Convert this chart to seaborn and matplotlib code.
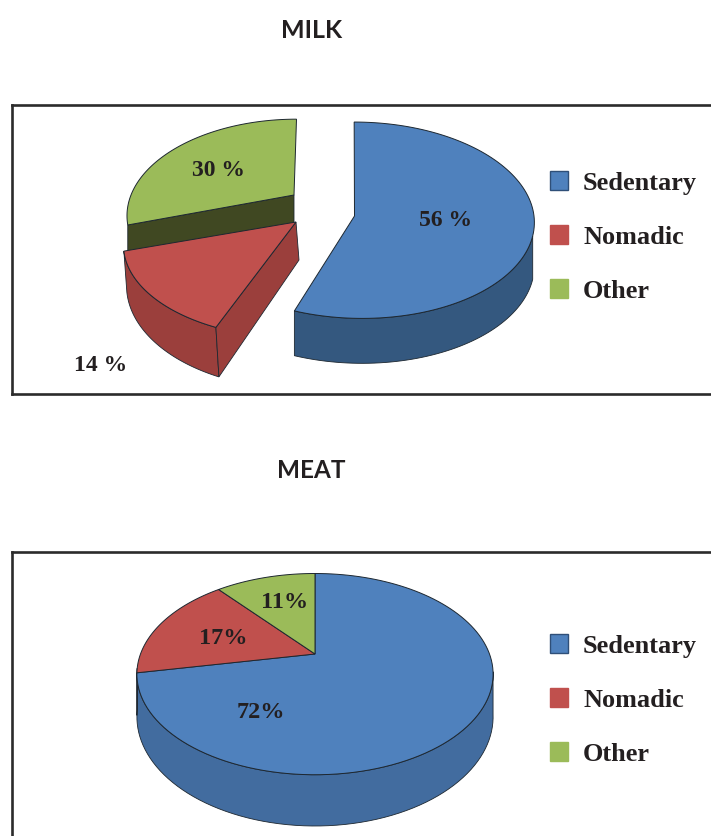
import numpy as np
import seaborn as sns
import matplotlib.pyplot as plt
from matplotlib.patches import Patch

groups = ['Sedentary', 'Nomadic', 'Other']
milk_values = [56, 14, 30]
meat_values = [72, 17, 11]
milk_labels = ['56 %', '14 %', '30 %']
meat_labels = ['72%', '17%', '11%']

sns.set_theme(style='white')
plt.rcParams['font.family'] = ['Liberation Serif', 'DejaVu Serif']

tops = sns.color_palette(['#4f81bd', '#c0504d', '#9bbb59'])
EDGE = '#1d2730'
TEXT = '#231f20'


def project(g, angles, drop=0.0):
    # circle to screen, the back of the pie is smaller than the front
    u, v = np.sin(angles), np.cos(angles)
    w = 1 + g['k'] * v
    x = g['cx'] + g.get('dx', 0) + (g['rx'] * u - g.get('skew', 0) * v) / w
    y = g['cy'] + (-g['ry'] * v + drop) / w
    if drop:
        x = x + g.get('lean', 0)
    return x, y


def draw_slice(ax, g, start, end, top, side):
    a = np.radians(np.linspace(start, end, 120))
    x, y = project(g, a)
    apex = (g['cx'], g['cy'])

    # outer wall, only the part facing the viewer
    front = a[(a > np.radians(100)) & (a < np.radians(262))]
    if len(front) > 1 and g.get('wall', True):
        x1, y1 = project(g, front)
        x2, y2 = project(g, front, g['depth'])
        ax.fill(np.r_[x1, x2[::-1]], np.r_[y1, y2[::-1]], fc=side, ec=EDGE, lw=0.6, zorder=g['z'])

    # cut faces left open by the exploded slices
    for ang in g.get('faces', []):
        px, py = project(g, np.radians(np.array([ang])))
        px2, py2 = project(g, np.radians(np.array([ang])), g['depth'])
        ax.fill([apex[0], px[0], px2[0], apex[0] + g.get('lean', 0)],
                [apex[1], py[0], py2[0], apex[1] + g['depth']],
                fc=side, ec=EDGE, lw=0.6, zorder=g['z'])

    ax.fill(np.r_[apex[0], x], np.r_[apex[1], y], fc=top, ec=EDGE, lw=0.7, zorder=g['z'] + 0.5)


def draw_pie(ax, values, layout, sides):
    start = 0.0
    for val, g, top, side in zip(values, layout, tops, sides):
        end = start + val * 3.6
        draw_slice(ax, g, start, end, top, side)
        start = end


def add_legend(ax, y):
    handles = [Patch(fc=c, ec='#2f4f78' if i == 0 else c, lw=1, label=groups[i]) for i, c in enumerate(tops)]
    ax.legend(handles=handles, loc='center left', bbox_to_anchor=(550, y), bbox_transform=ax.transData,
              frameon=False, borderpad=0, borderaxespad=0, handlelength=0.7, handleheight=0.7,
              handletextpad=0.56, labelspacing=1.16, prop={'size': 18.9, 'weight': 'bold'}, labelcolor=TEXT)


def make_axes(fig, top, bottom, spines):
    ax = fig.add_axes([12 / 711, 1 - bottom / 836, 699 / 711, (bottom - top) / 836])
    ax.set_xlim(12, 711)
    ax.set_ylim(bottom, top)
    ax.set_xticks([])
    ax.set_yticks([])
    for name, sp in ax.spines.items():
        sp.set_visible(name in spines)
        sp.set_color('#2b2b2b')
        sp.set_linewidth(1.9)
    return ax


fig = plt.figure(figsize=(7.11, 8.36), dpi=100, facecolor='white')

# MILK
ax1 = make_axes(fig, 105, 394, ['left', 'top', 'bottom'])
milk_layout = [
    dict(cx=354.5, cy=216, dx=3.5, rx=176, ry=98, k=0.043, skew=4, depth=43, z=3),
    dict(cx=296, cy=222, rx=167, ry=87, k=0.25, depth=38, lean=3, z=2, faces=[201.6]),
    dict(cx=294, cy=195, rx=163, ry=91, k=0.2, skew=-3, depth=30, z=1, wall=False, faces=[252]),
]
draw_pie(ax1, milk_values, milk_layout, ['#34587f', '#9b3f3c', '#404822'])
for txt, x, y in zip(milk_labels, [445.5, 100.5, 219], [221, 365, 171]):
    ax1.text(x, y, txt, ha='center', va='center', fontsize=17, fontweight='bold', color=TEXT, zorder=6)
add_legend(ax1, 237)

# MEAT
ax2 = make_axes(fig, 552, 836, ['left', 'top'])
meat_layout = [
    dict(cx=315, cy=654, rx=174.5, ry=96.6, k=0.2, depth=41, z=3),
    dict(cx=315, cy=654, rx=174.5, ry=96.6, k=0.2, depth=41, z=3),
    dict(cx=315, cy=654, rx=174.5, ry=96.6, k=0.2, depth=41, z=3),
]
draw_pie(ax2, meat_values, meat_layout, ['#426c9f', '#9b3f3c', '#404822'])
for txt, x, y in zip(meat_labels, [261, 223.5, 285], [713, 638, 602]):
    ax2.text(x, y, txt, ha='center', va='center', fontsize=17.5, fontweight='bold', color=TEXT, zorder=6)
add_legend(ax2, 700)

fig.text(311.5 / 711, 1 - 30 / 836, 'MILK', ha='center', va='center', fontsize=18, fontweight='bold',
         family='Lato', color=TEXT)
fig.text(311 / 711, 1 - 470 / 836, 'MEAT', ha='center', va='center', fontsize=17.5, fontweight='bold',
         family='Lato', color=TEXT)

fig.savefig('out.png', dpi=100)
